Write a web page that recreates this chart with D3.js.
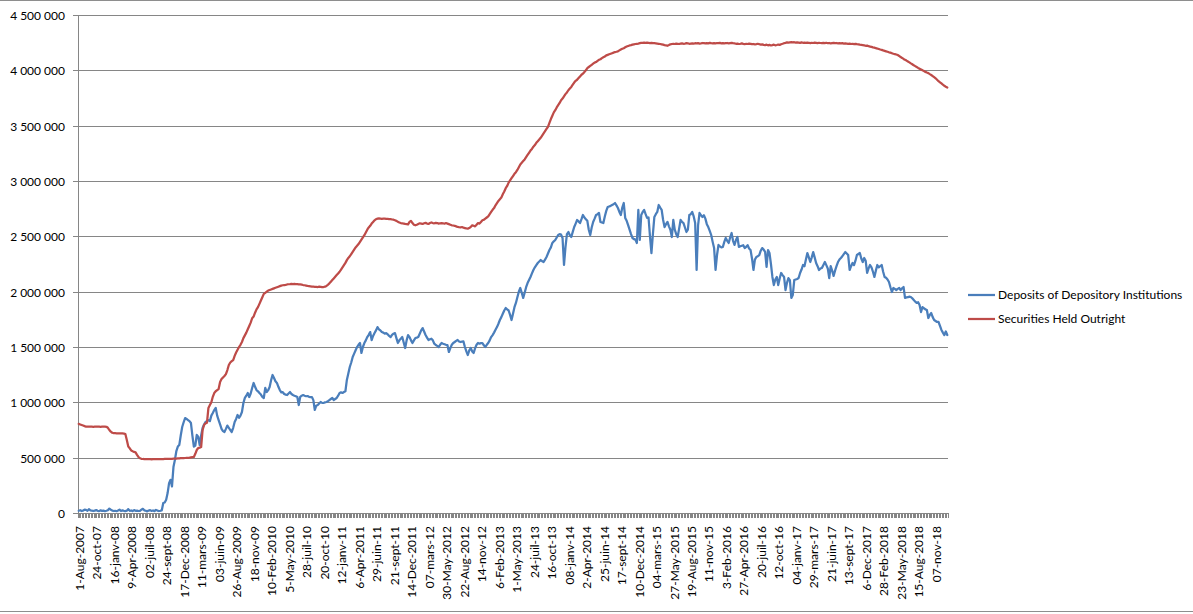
<!DOCTYPE html>
<html><head><meta charset="utf-8">
<script src="https://cdn.jsdelivr.net/npm/d3@7"></script>
<style>
body{margin:0;background:#fff}
svg{display:block}
text{font-family:Lato, "Open Sans", sans-serif; font-size:12px; fill:#000}
</style>
</head><body><svg id="c" width="1193" height="614"></svg>
<script>
// x-axis tick labels (every 12th weekly category)
const tickLabels = ["1-Aug-2007","24-oct-07","16-janv-08","9-Apr-2008","02-juil-08","24-sept-08","17-Dec-2008","11-mars-09","03-juin-09","26-Aug-2009","18-nov-09","10-Feb-2010","5-May-2010","28-juil-10","20-oct-10","12-janv-11","6-Apr-2011","29-juin-11","21-sept-11","14-Dec-2011","07-mars-12","30-May-2012","22-Aug-2012","14-nov-12","6-Feb-2013","1-May-2013","24-juil-13","16-oct-13","08-janv-14","2-Apr-2014","25-juin-14","17-sept-14","10-Dec-2014","04-mars-15","27-May-2015","19-Aug-2015","11-nov-15","3-Feb-2016","27-Apr-2016","20-juil-16","12-oct-16","04-janv-17","29-mars-17","21-juin-17","13-sept-17","6-Dec-2017","28-Feb-2018","23-May-2018","15-Aug-2018","07-nov-18"];
const tickEvery = 12;

// weekly values, in thousands of the axis unit
const depositsK = [20,25,18,22,30,28,19,35,24,21,
18,22,26,20,17,24,19,22,16,20,
25,40,30,22,18,20,16,22,30,18,
24,20,17,21,35,19,23,17,26,20,
22,18,20,30,38,24,20,15,22,26,
19,23,17,28,22,18,20,24,
90,95,120,180,270,300,240,415,480,560,600,614,
700,777,820,858,850,840,830,813,700,600,
610,705,690,614,700,768,800,822,830,840,
830,880,904,930,949,880,840,800,760,740,
732,760,790,770,750,732,770,822,850,886,
860,880,913,994,1040,1060,1084,1048,1080,1130,
1175,1140,1111,1100,1084,1070,1050,1039,1130,1093,
1110,1139,1200,1247,1220,1190,1175,1140,1111,1090,
1093,1075,1070,1066,1080,1093,1075,1066,1060,1055,
1048,976,1050,1060,1066,1060,1055,1057,1050,1048,
1048,1020,931,970,976,990,1003,995,994,1000,
1003,1010,1020,1030,1039,1021,1030,1039,1060,1084,
1090,1085,1093,1100,1202,1260,1319,1360,1410,1440,
1470,1500,1520,1536,1446,1500,1536,1560,1590,1610,
1635,1563,1600,1626,1650,1680,1660,1650,1635,1630,
1620,1626,1615,1600,1590,1610,1620,1626,1580,1536,
1560,1575,1590,1540,1491,1560,1608,1590,1560,1536,
1560,1581,1585,1590,1620,1650,1671,1640,1608,1585,
1563,1570,1575,1560,1530,1518,1510,1500,1520,1536,
1530,1525,1520,1518,1455,1490,1520,1536,1545,1555,
1563,1550,1545,1548,1550,1500,1460,1428,1470,1491,
1460,1446,1490,1520,1536,1530,1535,1536,1515,1500,
1520,1536,1560,1590,1608,1630,1655,1680,1710,1744,
1770,1800,1830,1852,1840,1830,1790,1744,1800,1860,
1898,1950,2000,2033,1990,1943,1990,2040,2078,2105,
2133,2165,2196,2220,2240,2259,2272,2286,2275,2268,
2290,2313,2345,2376,2400,2440,2455,2467,2490,2512,
2520,2515,2485,2241,2400,2520,2539,2510,2494,2540,
2584,2615,2648,2635,2620,2655,2693,2670,2655,2640,
2560,2512,2580,2630,2660,2693,2700,2711,2630,2625,
2620,2680,2730,2765,2770,2775,2783,2790,2801,2780,
2756,2720,2693,2760,2801,2666,2640,2602,2560,2520,
2485,2475,2470,2440,2738,2467,2693,2720,2738,2700,
2666,2670,2500,2349,2520,2675,2700,2720,2783,2760,
2740,2650,2584,2610,2630,2590,2560,2494,2648,2560,
2520,2494,2570,2648,2630,2620,2580,2539,2560,2693,
2700,2720,2680,2620,2196,2600,2711,2690,2675,2690,
2660,2610,2584,2550,2512,2450,2394,2196,2331,2422,
2410,2400,2404,2450,2485,2460,2440,2490,2530,2460,
2422,2467,2494,2404,2410,2415,2420,2394,2405,2420,
2390,2376,2300,2196,2290,2313,2320,2331,2370,2394,
2380,2360,2223,2376,2350,2250,2133,2060,2110,2133,
2060,2120,2169,2150,2133,2015,2080,2123,2105,1943,
1970,2105,2110,2115,2123,2169,2200,2241,2230,2290,
2349,2310,2268,2310,2358,2310,2259,2230,2196,2210,
2215,2241,2268,2240,2210,2123,2230,2190,2142,2190,
2230,2268,2290,2304,2320,2340,2358,2345,2331,2196,
2230,2259,2240,2280,2331,2340,2349,2300,2268,2304,
2280,2169,2210,2241,2220,2180,2133,2190,2241,2220,
2230,2241,2180,2133,2125,2110,2087,2040,1997,2033,
2025,2015,2025,2033,2015,2030,2042,1943,1948,1950,
1955,1952,1940,1925,1910,1898,1905,1880,1816,1861,
1850,1840,1834,1762,1790,1807,1770,1744,1735,1726,
1726,1690,1654,1630,1608,1640,1608];

const securitiesK = [805,800,795,790,785,781,780,780,781,780,
779,780,780,781,780,779,780,780,780,779,
770,750,735,725,722,721,720,720,719,720,
720,718,713,660,600,585,565,558,552,548,
525,506,495,490,488,487,487,486,486,486,
485,486,486,486,486,487,487,487,487,488,
488,489,489,490,490,491,491,492,493,494,
495,495,496,497,498,499,500,502,504,506,
535,569,587,590,596,750,795,810,815,949,
975,1000,1050,1084,1100,1110,1120,1184,1210,1225,
1238,1255,1292,1337,1360,1372,1382,1420,1450,1475,
1500,1520,1545,1580,1605,1630,1660,1690,1720,1760,
1775,1810,1840,1860,1890,1920,1950,1980,1990,2000,
2010,2015,2020,2025,2030,2035,2040,2045,2050,2055,
2058,2060,2062,2065,2067,2068,2070,2068,2070,2069,
2068,2066,2065,2063,2060,2058,2055,2052,2050,2048,
2046,2045,2044,2043,2042,2045,2043,2041,2042,2045,
2052,2062,2075,2090,2105,2120,2135,2150,2165,2180,
2200,2220,2240,2260,2285,2305,2320,2340,2360,2380,
2400,2415,2430,2450,2470,2490,2510,2535,2560,2580,
2595,2615,2630,2645,2655,2660,2662,2660,2658,2660,
2659,2657,2658,2656,2655,2652,2650,2645,2640,2632,
2625,2620,2618,2615,2612,2610,2608,2630,2640,2620,
2605,2600,2605,2612,2618,2615,2612,2618,2622,2615,
2612,2620,2625,2620,2618,2622,2620,2615,2618,2620,
2618,2614,2620,2615,2610,2605,2600,2598,2595,2590,
2585,2582,2580,2584,2578,2575,2572,2570,2575,2585,
2600,2595,2590,2605,2620,2615,2630,2645,2650,2660,
2670,2680,2700,2720,2740,2755,2780,2800,2820,2835,
2850,2880,2905,2935,2955,2985,3005,3025,3045,3065,
3080,3100,3125,3150,3165,3180,3195,3215,3235,3255,
3275,3290,3310,3325,3345,3360,3375,3390,3410,3430,
3450,3470,3490,3525,3560,3590,3620,3640,3665,3685,
3705,3730,3745,3765,3785,3800,3820,3835,3850,3870,
3890,3905,3915,3930,3945,3960,3970,3985,4000,4020,
4030,4040,4050,4060,4070,4075,4085,4095,4100,4110,
4118,4125,4135,4140,4145,4150,4155,4160,4165,4168,
4172,4180,4188,4195,4200,4208,4215,4220,4225,4228,
4232,4235,4238,4240,4242,4245,4248,4248,4250,4248,
4250,4248,4246,4248,4245,4246,4244,4242,4240,4238,
4235,4232,4228,4225,4222,4228,4235,4238,4240,4238,
4242,4240,4238,4242,4244,4240,4242,4245,4243,4240,
4242,4244,4241,4245,4243,4246,4242,4244,4247,4245,
4243,4246,4244,4248,4245,4243,4246,4244,4247,4245,
4248,4244,4246,4243,4245,4247,4244,4246,4248,4245,
4243,4240,4242,4238,4240,4243,4239,4236,4240,4238,
4242,4239,4236,4238,4235,4237,4240,4236,4233,4235,
4230,4228,4232,4226,4230,4225,4228,4232,4226,4229,
4233,4230,4236,4240,4245,4248,4252,4250,4253,4255,
4252,4254,4250,4253,4251,4248,4252,4249,4250,4248,
4251,4249,4246,4249,4247,4250,4248,4246,4249,4247,
4245,4248,4246,4249,4245,4247,4244,4246,4248,4245,
4247,4244,4246,4243,4245,4242,4244,4242,4240,4242,
4238,4240,4237,4239,4236,4235,4232,4230,4228,4226,
4222,4224,4218,4215,4212,4208,4205,4200,4197,4193,
4188,4185,4180,4176,4172,4168,4163,4160,4155,4150,
4147,4143,4138,4130,4120,4112,4103,4095,4088,4080,
4072,4063,4055,4045,4038,4030,4022,4015,4008,4000,
3993,3986,3980,3975,3966,3958,3948,3938,3928,3915,
3902,3892,3882,3870,3860,3852,3845];

const seriesNames = ["Deposits of Depository Institutions","Securities Held Outright"];
const seriesColors = ["#4a7ebb","#be4b48"];
const yMax = 4500000, yStep = 500000;

const svg = d3.select("#c");
const plot = {left:78, right:948, top:15, bottom:513};
const N = depositsK.length;
const x = d3.scaleBand().domain(d3.range(N)).range([plot.left, plot.right]).padding(0);
const y = d3.scaleLinear().domain([0, yMax]).range([plot.bottom, plot.top]);
const fmt = d3.formatLocale({decimal:",", thousands:" ", grouping:[3], currency:["",""]}).format(",d");
const grey = "#868686";

// frame lines
svg.append("line").attr("x1",0).attr("x2",1193).attr("y1",0.5).attr("y2",0.5).attr("stroke","#8e8e8e");
svg.append("line").attr("x1",0).attr("x2",1193).attr("y1",611.5).attr("y2",611.5).attr("stroke","#8e8e8e");

// gridlines + y ticks + labels
const yTicks = d3.range(0, yMax + 1, yStep);
const gy = svg.append("g");
yTicks.forEach(v => {
  const yy = Math.round(y(v)) + 0.5;
  gy.append("line").attr("x1", plot.left - 5).attr("x2", plot.right).attr("y1", yy).attr("y2", yy)
    .attr("stroke", grey).attr("stroke-width", 1);
  gy.append("text").attr("x", plot.left - 13).attr("y", yy).attr("dy", "0.35em")
    .attr("text-anchor", "end").text(fmt(v));
});
// y axis line
svg.append("line").attr("x1", plot.left + 0.5).attr("x2", plot.left + 0.5)
  .attr("y1", Math.round(y(yMax))).attr("y2", Math.round(y(0)) + 1).attr("stroke", grey);

// x axis comb ticks at category boundaries
const gx = svg.append("g").attr("shape-rendering","crispEdges");
for (let k = 0; k <= N; k++) {
  const xx = k < N ? x(k) : plot.right;
  gx.append("line").attr("x1", xx).attr("x2", xx).attr("y1", Math.round(y(0))).attr("y2", Math.round(y(0)) + 5)
    .attr("stroke", grey);
}
// x labels
tickLabels.forEach((lab, k) => {
  const i = k * tickEvery;
  const cx = x(i) + x.bandwidth() / 2 + 1;
  svg.append("text").attr("transform", `translate(${cx},${plot.bottom + 13}) rotate(-90)`)
    .attr("text-anchor", "end").attr("dy", "0.35em").text(lab);
});

// series lines
const line = d3.line().x((d, i) => x(i) + x.bandwidth() / 2).y(d => y(d * 1000));
[depositsK, securitiesK].forEach((s, j) => {
  svg.append("path").datum(s).attr("d", line).attr("fill", "none")
    .attr("stroke", seriesColors[j]).attr("stroke-width", 2.25)
    .attr("stroke-linejoin", "round").attr("stroke-linecap", "round");
});

// legend
seriesNames.forEach((n, j) => {
  const ly = 295 + j * 24;
  svg.append("line").attr("x1", 968).attr("x2", 995).attr("y1", ly).attr("y2", ly)
    .attr("stroke", seriesColors[j]).attr("stroke-width", 2.25);
  svg.append("text").attr("x", 998).attr("y", ly).attr("dy", "0.35em").text(n);
});
</script>
</body></html>
